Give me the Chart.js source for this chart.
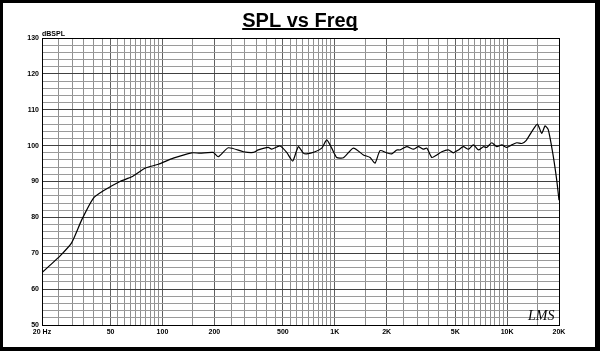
<!DOCTYPE html>
<html>
<head>
<meta charset="utf-8">
<script src="https://cdn.jsdelivr.net/npm/chart.js@4/dist/chart.umd.min.js"></script>
<style>
  html, body { margin: 0; padding: 0; background: #fff; }
  #wrap { width: 600px; height: 351px; }
</style>
</head>
<body>
<div id="wrap"><canvas id="grafica" width="600" height="351"></canvas></div>
<script>
var freqs = [20, 22.3, 25.4, 29.7, 34, 39.7, 45.4, 56.7, 66.3, 79.2, 94.6, 115.6, 148, 165, 197, 211, 241, 295, 337, 360,
  411, 430, 481, 526, 570, 614, 657, 687, 768, 840, 898, 960, 1026, 1122, 1282, 1466, 1603, 1712, 1830, 2000,
  2140, 2290, 2390, 2617, 2858, 3054, 3266, 3420, 3656, 3908, 4176, 4560, 4876, 5214, 5572, 5960, 6372, 6814, 7280, 7620,
  8145, 8710, 9311, 9952, 10640, 11378, 12160, 12884, 13900, 14990, 15880, 16600, 17340, 18400, 19400, 20000];
var spl = [64.6, 66.7, 69.2, 72.9, 79.3, 85.3, 87.4, 90.0, 91.3, 93.7, 94.8, 96.5, 98.0, 97.9, 98.1, 96.9, 99.4, 98.3, 98.1, 98.8,
  99.5, 99.0, 99.9, 98.1, 95.7, 99.7, 97.9, 97.7, 98.3, 99.3, 101.6, 99.3, 96.7, 96.6, 99.3, 97.4, 96.7, 95.1, 98.6, 98.0,
  97.7, 98.8, 98.8, 99.7, 99.0, 99.7, 99.0, 99.3, 96.7, 97.4, 98.3, 98.8, 98.0, 98.8, 99.7, 99.0, 100.2, 98.8, 99.7, 99.5,
  100.8, 99.7, 100.2, 99.5, 100.2, 100.8, 100.6, 101.4, 103.9, 106.0, 103.4, 105.5, 104.4, 97.9, 90.4, 84.8];

// grid lines on the frequency axis
var xGrid = [20, 25, 30, 35, 40, 45, 50, 55, 60, 65, 70, 75, 80, 85, 90, 95, 100, 150,
  200, 250, 300, 350, 400, 450, 500, 550, 600, 650, 700, 750, 800, 850, 900, 950, 1000, 1500,
  2000, 2500, 3000, 3500, 4000, 4500, 5000, 5500, 6000, 6500, 7000, 7500, 8000, 8500, 9000, 9500, 10000, 15000, 20000];
var xTickValues = [20, 50, 100, 200, 500, 1000, 2000, 5000, 10000, 20000];
var xTickLabels = ['20 Hz', '50', '100', '200', '500', '1K', '2K', '5K', '10K', '20K'];
var yGrid = [];
for (var v = 50; v <= 130; v += 2) yGrid.push(v);

var puntos = [];
for (var i = 0; i < freqs.length; i++) puntos.push({x: freqs[i], y: spl[i]});

var marco = {
  id: 'marco',
  beforeDraw: function(chart) {
    var c = chart.ctx;
    c.save();
    c.fillStyle = '#000';
    c.fillRect(0, 0, 600, 351);
    c.fillStyle = '#fff';
    c.fillRect(3, 3, 592, 344);
    c.restore();
  },
  afterDraw: function(chart) {
    var c = chart.ctx, a = chart.chartArea;
    c.save();
    c.strokeStyle = '#000';
    c.lineWidth = 1;
    c.strokeRect(Math.round(a.left) + 0.5, Math.round(a.top) + 0.5, Math.round(a.right - a.left), Math.round(a.bottom - a.top));
    // title
    c.fillStyle = '#000';
    c.font = 'bold 20px "Liberation Sans", Arial, sans-serif';
    c.textAlign = 'center';
    c.textBaseline = 'alphabetic';
    c.fillText('SPL vs Freq', 300, 27);
    var w = c.measureText('SPL vs Freq').width;
    c.fillRect(300 - w / 2, 28, w, 2);
    // axis unit
    c.font = 'bold 7px "Liberation Sans", Arial, sans-serif';
    c.textAlign = 'left';
    c.fillText('dBSPL', 42, 36);
    // signature
    c.font = 'italic 14px "Liberation Serif", serif';
    c.fillText('LMS', 528, 320);
    c.restore();
  }
};

new Chart(document.getElementById('grafica').getContext('2d'), {
  type: 'line',
  data: {
    datasets: [{
      data: puntos,
      borderColor: '#000',
      borderWidth: 1.2,
      pointRadius: 0,
      tension: 0.2,
      fill: false
    }]
  },
  options: {
    responsive: false,
    animation: false,
    devicePixelRatio: 1,
    layout: { padding: { top: 38, right: 41, left: 0, bottom: 0 } },
    plugins: { legend: { display: false }, tooltip: { enabled: false } },
    scales: {
      x: {
        type: 'logarithmic',
        min: 20,
        max: 20000,
        afterBuildTicks: function(s) { s.ticks = xGrid.map(function(f) { return {value: f}; }); },
        afterFit: function(s) { s.height = 26; },
        grid: {
          drawTicks: false,
          lineWidth: 1,
          color: function(ctx) {
            return xTickValues.indexOf(ctx.tick.value) >= 0 ? '#606060' : '#909090';
          }
        },
        border: { display: true, color: '#000' },
        ticks: {
          autoSkip: false,
          maxRotation: 0,
          padding: 3,
          color: '#000',
          font: { family: '"Liberation Sans", Arial, sans-serif', size: 7, weight: 'bold' },
          callback: function(value) {
            var k = xTickValues.indexOf(value);
            return k >= 0 ? xTickLabels[k] : '';
          }
        }
      },
      y: {
        type: 'linear',
        min: 50,
        max: 130,
        afterBuildTicks: function(s) { s.ticks = yGrid.map(function(d) { return {value: d}; }); },
        afterFit: function(s) { s.width = 42; },
        grid: {
          drawTicks: false,
          lineWidth: 1,
          color: function(ctx) {
            return ctx.tick.value % 10 === 0 ? '#404040' : '#9a9a9a';
          }
        },
        border: { display: true, color: '#000' },
        ticks: {
          autoSkip: false,
          padding: 3,
          color: '#000',
          font: { family: '"Liberation Sans", Arial, sans-serif', size: 7, weight: 'bold' },
          callback: function(value) {
            return value % 10 === 0 ? String(value) : '';
          }
        }
      }
    }
  },
  plugins: [marco]
});
</script>
</body>
</html>
